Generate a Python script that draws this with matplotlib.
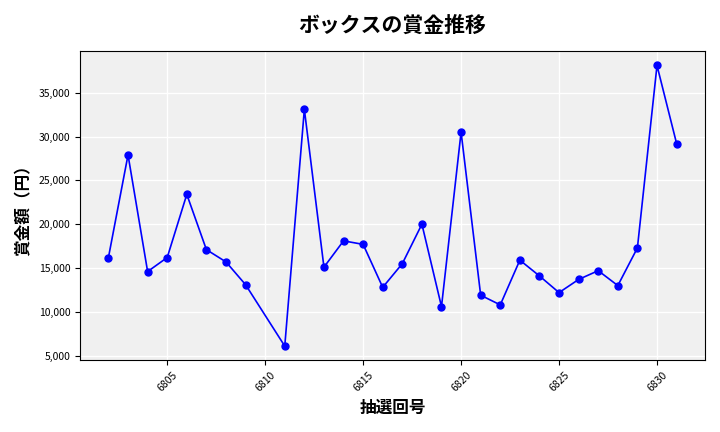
import matplotlib
matplotlib.use("Agg")
import matplotlib.pyplot as plt
from matplotlib.ticker import FuncFormatter

plt.rcParams['font.family'] = ['Noto Sans CJK JP', 'DejaVu Sans']

draws = [6802, 6803, 6804, 6805, 6806, 6807, 6808, 6809, 6811, 6812, 6813, 6814, 6815,
         6816, 6817, 6818, 6819, 6820, 6821, 6822, 6823, 6824, 6825, 6826, 6827, 6828,
         6829, 6830, 6831]
prizes = [16200, 27900, 14600, 16200, 23400, 17100, 15700, 13100, 6100, 33100, 15100,
          18100, 17700, 12800, 15500, 20000, 10600, 30500, 11900, 10800, 15900, 14100,
          12200, 13700, 14700, 13000, 17300, 38100, 29200]

fig, ax = plt.subplots(figsize=(7.2, 4.32), dpi=100)
ax.set_facecolor('#f0f0f0')
ax.grid(color='white', linewidth=1)
ax.set_axisbelow(True)
ax.plot(draws, prizes, color='blue', marker='o', markersize=5, linewidth=1.2)
ax.set_title('ボックスの賞金推移', fontsize=15, fontweight='bold', pad=14)
ax.set_xlabel('抽選回号', fontsize=12, fontweight='bold')
ax.set_ylabel('賞金額（円）', fontsize=12, fontweight='bold')
ax.yaxis.set_major_formatter(FuncFormatter(lambda v, p: f'{int(v):,}'))
ax.set_xticks([6805, 6810, 6815, 6820, 6825, 6830])
plt.xticks(rotation=45, fontsize=7.5)
plt.yticks(fontsize=7.5)
for s in ax.spines.values():
    s.set_linewidth(0.8)
plt.tight_layout()
plt.savefig('out.png')
